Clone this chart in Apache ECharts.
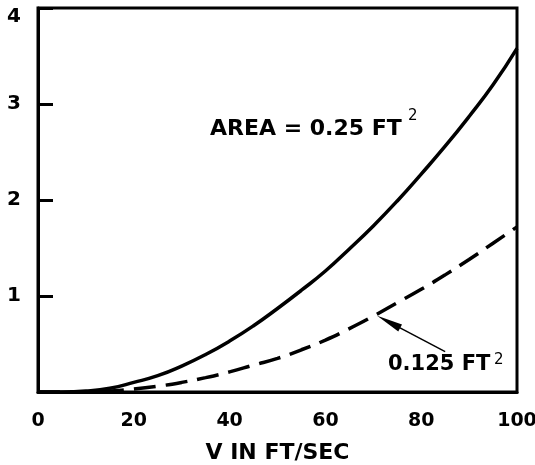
<!DOCTYPE html>
<html>
<head>
    <meta charset="utf-8">
    <title>chart</title>
    <style>
        html, body { margin: 0; padding: 0; background: #fff; }
        #chart { width: 535px; height: 465px; }
    </style>
    <script src="https://cdn.jsdelivr.net/npm/echarts@6/dist/echarts.min.js"></script>
</head>
<body>
<div id="chart"></div>
<script>
    // speed values, ft/sec
    const speeds = [0, 5, 10, 15, 20, 25, 30, 35, 40, 45, 50, 55, 60, 65, 70, 75, 80, 85, 90, 95, 100];
    // area = 0.25 ft^2 (solid)
    const area025 = [0, 0, 0.01, 0.04, 0.1, 0.17, 0.27, 0.39, 0.53, 0.69, 0.87, 1.06, 1.26, 1.49, 1.73, 1.99, 2.27, 2.56, 2.87, 3.2, 3.58];
    // area = 0.125 ft^2 (dashed)
    const area0125 = [0, 0, 0, 0.01, 0.03, 0.06, 0.1, 0.15, 0.21, 0.28, 0.35, 0.44, 0.54, 0.66, 0.79, 0.93, 1.07, 1.22, 1.38, 1.55, 1.72];
    const xTicks = [0, 20, 40, 60, 80, 100];
    const yTicks = [1, 2, 3, 4];
    // arrow: tail -> head, in data units (head = centre of the arrowhead)
    const arrowTail = [85, 0.42];
    const arrowHead = [73.2, 0.73];

    const font = '"DejaVu Sans", Verdana, sans-serif';

    const chart = echarts.init(document.getElementById('chart'));
    chart.setOption({
        animation: false,
        grid: {
            left: 38, right: 18, top: 8, bottom: 73,
            outerBoundsMode: 'none',
            containLabel: false,
            show: true, borderColor: '#000', borderWidth: 3
        },
        xAxis: {
            type: 'value',
            min: 0, max: 100, interval: 20,
            name: 'V IN FT/SEC',
            nameLocation: 'middle',
            nameGap: 50,
            nameTextStyle: { fontFamily: font, fontWeight: 'bold', fontSize: 22, color: '#000' },
            axisLine: { show: true, lineStyle: { color: '#000', width: 3 } },
            axisTick: { show: false },
            splitLine: { show: false },
            axisLabel: {
                margin: 20,
                fontFamily: font, fontWeight: 'bold', fontSize: 19, color: '#000',
                formatter: v => xTicks.includes(v) ? String(v) : ''
            }
        },
        yAxis: {
            type: 'value',
            min: 0, max: 4, interval: 1,
            axisLine: { show: true, lineStyle: { color: '#000', width: 3 } },
            axisTick: { show: true, inside: true, length: 15, lineStyle: { color: '#000', width: 3 } },
            splitLine: { show: false },
            axisLabel: {
                margin: 17,
                fontFamily: font, fontWeight: 'bold', fontSize: 20, color: '#000',
                formatter: v => {
                    if (!yTicks.includes(v)) return '';
                    return v === 4 ? '{t|4}' : String(v);
                },
                rich: {
                    t: { padding: [18, 0, 0, 0], fontFamily: font, fontWeight: 'bold', fontSize: 20, color: '#000' }
                }
            }
        },
        series: [
            {
                name: '0.25 FT2',
                type: 'line',
                data: speeds.map((v, i) => [v, area025[i]]),
                smooth: true,
                showSymbol: false,
                lineStyle: { color: '#000', width: 3.5 }
            },
            {
                name: '0.125 FT2',
                type: 'line',
                data: speeds.map((v, i) => [v, area0125[i]]),
                smooth: true,
                showSymbol: false,
                lineStyle: { color: '#000', width: 3.5, type: [22, 10] },
                markLine: {
                    silent: true,
                    symbol: ['none', 'triangle'],
                    symbolSize: [8, 26],
                    label: { show: false },
                    lineStyle: { color: '#000', width: 1.5, type: 'solid' },
                    data: [[{ coord: arrowTail }, { coord: arrowHead }]]
                }
            }
        ],
        graphic: [
            {
                type: 'text', left: 210, top: 118,
                style: { text: 'AREA = 0.25 FT', fontFamily: font, fontWeight: 'bold', fontSize: 22, fill: '#000' }
            },
            {
                type: 'text', left: 408, top: 109,
                style: { text: '2', fontFamily: font, fontSize: 15, fill: '#000' }
            },
            {
                type: 'text', left: 388, top: 354,
                style: { text: '0.125 FT', fontFamily: font, fontWeight: 'bold', fontSize: 21, fill: '#000' }
            },
            {
                type: 'text', left: 494, top: 353,
                style: { text: '2', fontFamily: font, fontSize: 15, fill: '#000' }
            }
        ]
    });
</script>
</body>
</html>
